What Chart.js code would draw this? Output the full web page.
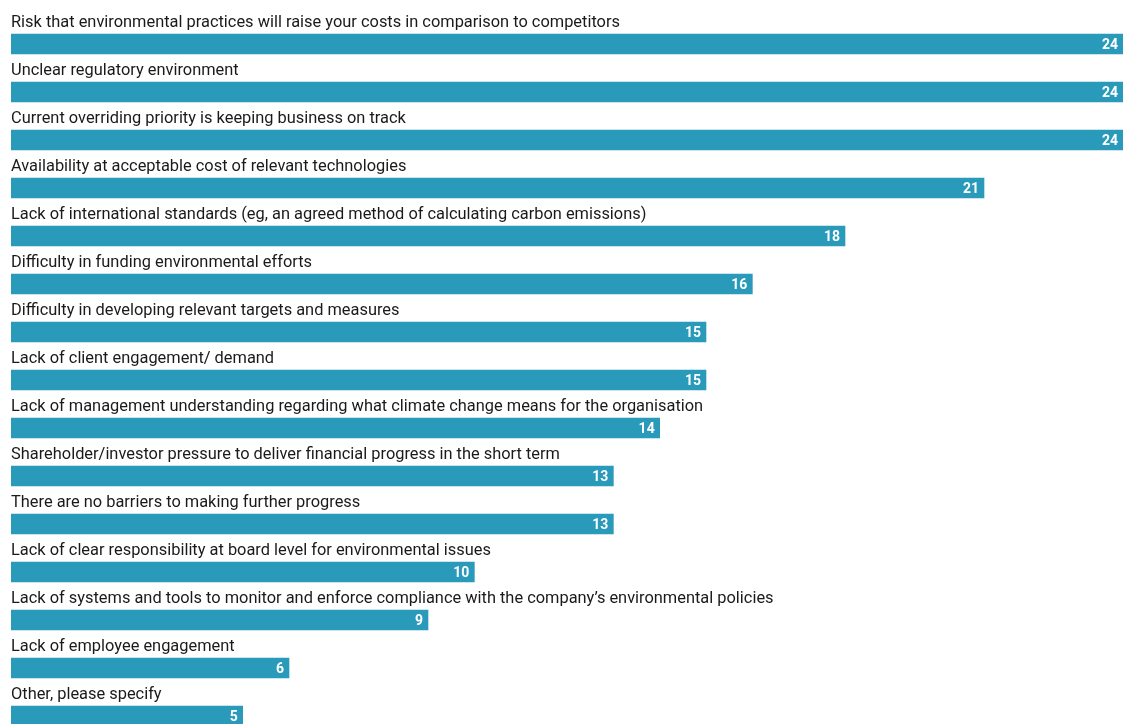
<!DOCTYPE html>
<html>
<head>
<meta charset="utf-8">
<script src="https://cdn.jsdelivr.net/npm/chart.js@4/dist/chart.umd.min.js"></script>
<style>
  html, body { margin: 0; padding: 0; background: #fff; overflow: hidden; }
  #wrap { width: 1123px; height: 740px; }
</style>
</head>
<body>
<div id="wrap"><canvas id="barriers"></canvas></div>
<script>
const categories = [
  "Risk that environmental practices will raise your costs in comparison to competitors",
  "Unclear regulatory environment",
  "Current overriding priority is keeping business on track",
  "Availability at acceptable cost of relevant technologies",
  "Lack of international standards (eg, an agreed method of calculating carbon emissions)",
  "Difficulty in funding environmental efforts",
  "Difficulty in developing relevant targets and measures",
  "Lack of client engagement/ demand",
  "Lack of management understanding regarding what climate change means for the organisation",
  "Shareholder/investor pressure to deliver financial progress in the short term",
  "There are no barriers to making further progress",
  "Lack of clear responsibility at board level for environmental issues",
  "Lack of systems and tools to monitor and enforce compliance with the company\u2019s environmental policies",
  "Lack of employee engagement",
  "Other, please specify"
];
const values = [24, 24, 24, 21, 18, 16, 15, 15, 14, 13, 13, 10, 9, 6, 5];

const barColor = "#2a9aba";

// label above each bar + value inside the bar end
const barLabels = {
  id: "barLabels",
  afterDatasetsDraw(chart) {
    const ctx = chart.ctx;
    const meta = chart.getDatasetMeta(0);
    ctx.save();
    meta.data.forEach((bar, i) => {
      ctx.fillStyle = "#1a1a1a";
      ctx.font = "16.4px Roboto";
      ctx.textAlign = "left";
      ctx.textBaseline = "alphabetic";
      ctx.fillText(categories[i], bar.base, bar.y - 17);

      ctx.fillStyle = "#ffffff";
      ctx.font = "bold 14px Roboto";
      ctx.textAlign = "right";
      ctx.textBaseline = "middle";
      ctx.fillText(String(values[i]), bar.x - 5, bar.y + 1);
    });
    ctx.restore();
  }
};

new Chart(document.getElementById("barriers"), {
  type: "bar",
  data: {
    labels: categories,
    datasets: [{
      data: values,
      backgroundColor: barColor,
      barThickness: 20,
      borderWidth: 0
    }]
  },
  options: {
    indexAxis: "y",
    responsive: true,
    maintainAspectRatio: false,
    animation: false,
    layout: { padding: { left: 11, right: 0, top: 20, bottom: 0 } },
    scales: {
      x: { type: "linear", min: 0, max: 24, display: false },
      y: { type: "category", offset: true, display: false }
    },
    plugins: { legend: { display: false }, tooltip: { enabled: false } }
  },
  plugins: [barLabels]
});
</script>
</body>
</html>
